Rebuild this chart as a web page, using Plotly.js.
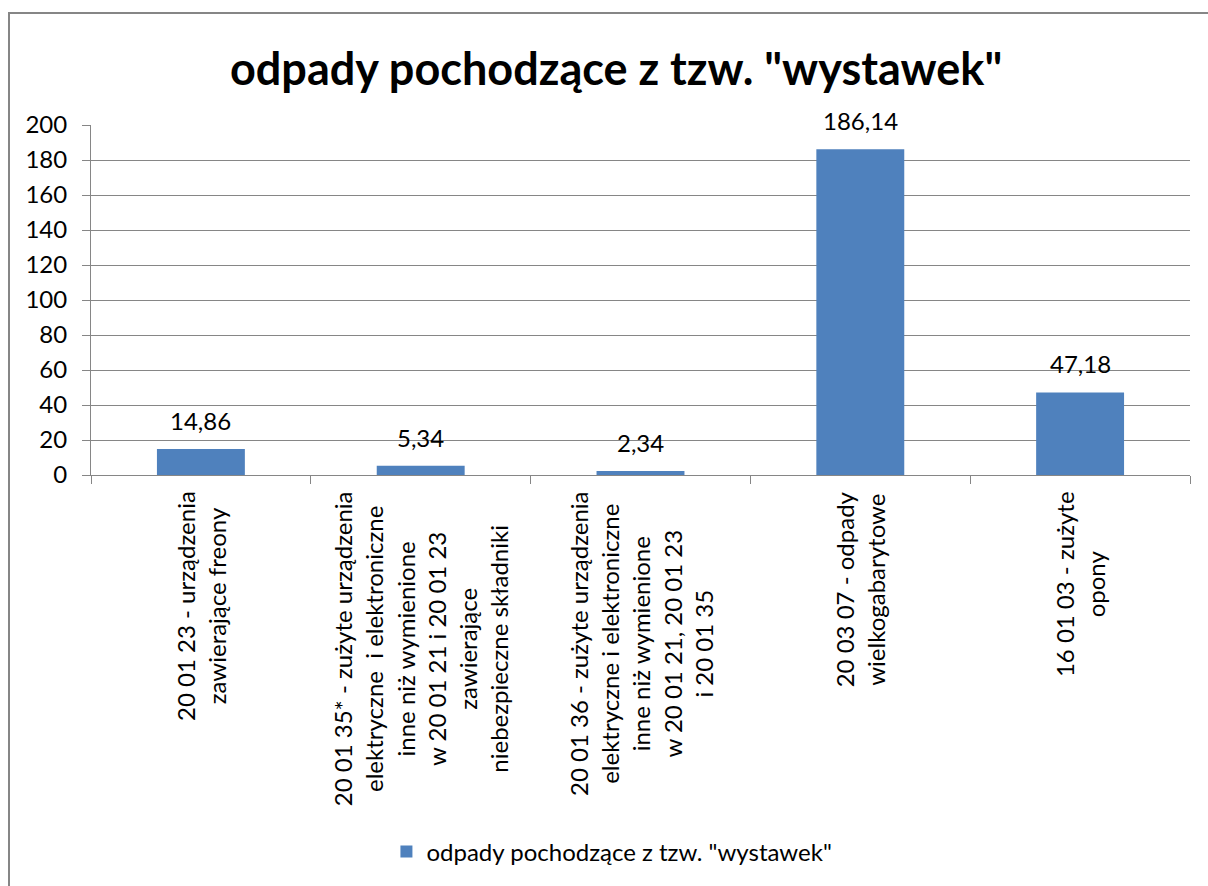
<!DOCTYPE html>
<html>
<head>
<meta charset="utf-8">
<script src="https://cdn.plot.ly/plotly-3.0.1.min.js"></script>
<style>
html,body{margin:0;padding:0;background:#fff;overflow:hidden;}
#wrap{position:relative;width:1208px;height:886px;}
#chart{width:1208px;height:886px;}
#frame{position:absolute;left:8px;top:12px;width:1210px;height:900px;border:2px solid #868686;box-sizing:border-box;pointer-events:none;}
</style>
</head>
<body>
<div id="wrap"><div id="chart"></div><div id="frame"></div></div>
<script>
var categories = [
  "20 01 23 - urządzenia<br>zawierające freony",
  "20 01 35* - zużyte urządzenia<br>elektryczne  i elektroniczne<br>inne niż wymienione<br>w 20 01 21 i 20 01 23<br>zawierające<br>niebezpieczne składniki",
  "20 01 36 - zużyte urządzenia<br>elektryczne i elektroniczne<br>inne niż wymienione<br>w 20 01 21, 20 01 23<br>i 20 01 35",
  "20 03 07 - odpady<br>wielkogabarytowe",
  "16 01 03 - zużyte<br>opony"
];
var values = [14.86, 5.34, 2.34, 186.14, 47.18];
var seriesName = 'odpady pochodzące z tzw. "wystawek"';
var chartTitle = 'odpady pochodzące z tzw. "wystawek"';
var yTicks = [0, 20, 40, 60, 80, 100, 120, 140, 160, 180, 200];

var FONT = 'Lato, "Open Sans", sans-serif';
var GRAY = '#868686';
var FS = 24;

var trace = {
  type: 'bar',
  x: categories,
  y: values,
  name: seriesName,
  marker: {color: '#4F81BD'},
  cliponaxis: false,
  hoverinfo: 'skip'
};

var annotations = categories.map(function(c){
  return {
    x: c, xref: 'x', y: 0, yref: 'paper',
    text: c, textangle: -90, showarrow: false,
    xanchor: 'center', yanchor: 'top', yshift: -14, align: 'center',
    font: {family: FONT, size: FS, color: '#000'}
  };
});
values.forEach(function(v, i){
  annotations.push({
    x: categories[i], xref: 'x', y: v, yref: 'y',
    text: v.toFixed(2).replace('.', ','), showarrow: false,
    xanchor: 'center', yanchor: 'bottom', yshift: 12,
    font: {family: FONT, size: FS, color: '#000'}
  });
});

var layout = {
  width: 1208, height: 886,
  margin: {l: 91, r: 18, t: 125, b: 411},
  paper_bgcolor: '#fff', plot_bgcolor: '#fff',
  title: {text: '<b>' + chartTitle + '</b>', font: {family: FONT, size: 45, color: '#000'},
          x: 0.51, xanchor: 'center', y: 0.922, yanchor: 'middle'},
  bargap: 0.6,
  showlegend: true,
  legend: {orientation: 'h', x: 0.474, xanchor: 'center', y: -1.077, yanchor: 'middle',
           font: {family: FONT, size: FS, color: '#000'}},
  xaxis: {
    type: 'category', showticklabels: false, showgrid: false,
    showline: true, linecolor: GRAY, linewidth: 1,
    ticks: 'outside', tickson: 'boundaries', ticklen: 8, tickcolor: GRAY,
    fixedrange: true
  },
  yaxis: {
    range: [0, 200], autorange: false,
    tickvals: yTicks, ticktext: yTicks.map(String),
    showgrid: true, gridcolor: GRAY, gridwidth: 1,
    showline: true, linecolor: GRAY, linewidth: 1,
    ticks: 'outside', ticklen: 8, tickcolor: GRAY, ticklabelstandoff: 10,
    tickfont: {family: FONT, size: FS, color: '#000'},
    zeroline: false, fixedrange: true
  },
  annotations: annotations
};

Plotly.newPlot('chart', [trace], layout, {displayModeBar: false, staticPlot: true});
</script>
</body>
</html>
